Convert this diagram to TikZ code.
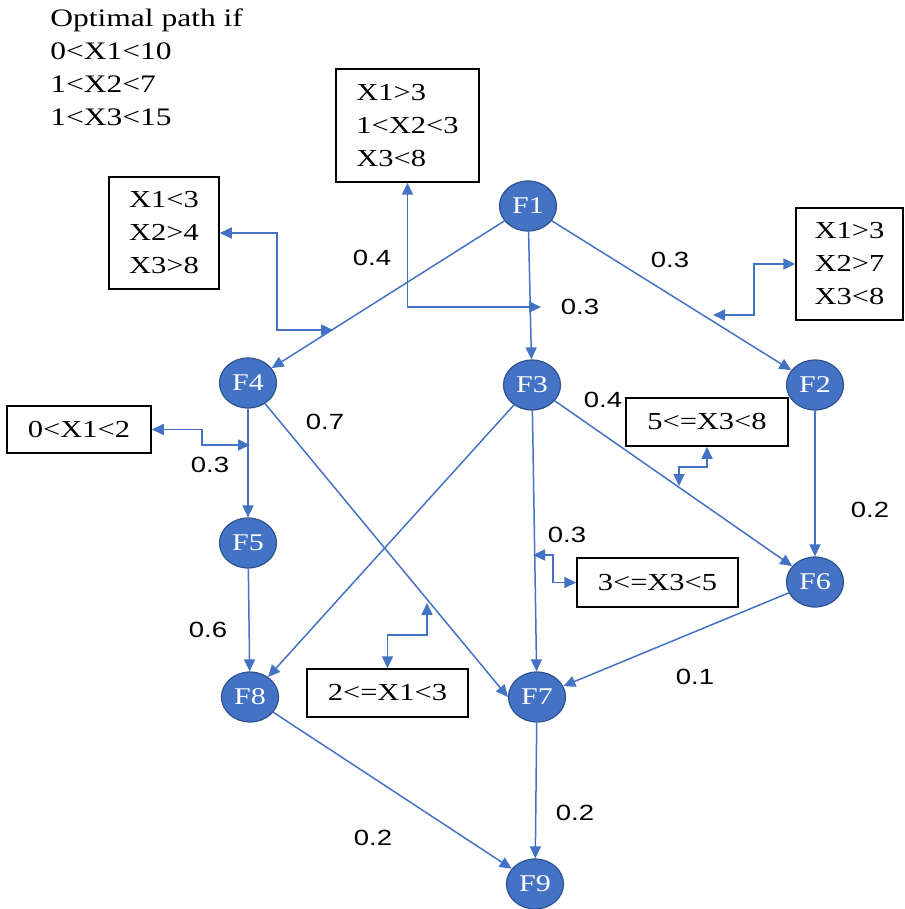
\documentclass[tikz,border=0pt]{standalone}
\usepackage{fontspec}
\setmainfont{Liberation Serif}[FakeStretch=1.25]
\setsansfont{Liberation Sans}[FakeStretch=1.25]
\usepackage{xcolor}
\usepackage{tikz}
\usetikzlibrary{arrows.meta, shapes.geometric}
\definecolor{fnblue}{RGB}{68,114,196}
\definecolor{fnrim}{RGB}{47,82,143}

\begin{document}
\begin{tikzpicture}[x=0.5pt, y=-0.5pt, >={Triangle[length=6pt,width=5.5pt]},
  fnode/.style={ellipse, draw=fnrim, line width=0.6pt, fill=fnblue, text=white, minimum width=28.5pt, minimum height=25pt, inner sep=0pt, font=\fontsize{12}{14}\selectfont},
  edge/.style={->, draw=fnblue, line width=0.75pt},
  callout/.style={<->, draw=fnblue, line width=0.85pt},
  cbox/.style={draw=black, line width=0.75pt, align=left, inner sep=0pt, font=\fontsize{12.2}{16.5}\selectfont},
  wlabel/.style={font=\sffamily\fontsize{11}{13}\selectfont, inner sep=0pt}]
\useasboundingbox (0,0) rectangle (904,909);
\node[anchor=north west, align=left, inner sep=0pt, font=\fontsize{12.6}{16.5}\selectfont] (optimal) at (50,8) {Optimal path if\\0<X1<10\\1<X2<7\\1<X3<15};
\node[fnode] (f1) at (528,206) {F1};
\node[fnode] (f4) at (248,383) {F4};
\node[fnode] (f3) at (532,385) {F3};
\node[fnode] (f2) at (815,385) {F2};
\node[fnode] (f5) at (248,543) {F5};
\node[fnode] (f6) at (815,582) {F6};
\node[fnode] (f8) at (250,697) {F8};
\node[fnode] (f7) at (537,697) {F7};
\node[fnode] (f9) at (535,884) {F9};
\draw[edge] (f1) -- (f4);
\draw[edge] (f1) -- (f3);
\draw[edge] (f1) -- (f2);
\draw[edge] (f4) -- (f5);
\draw[edge] (f4) -- (f7.west);
\draw[edge] (f3) -- (f8);
\draw[edge] (f3) -- (f7);
\draw[edge] (f3) -- (f6);
\draw[edge] (f2) -- (f6);
\draw[edge] (f5) -- (f8);
\draw[edge] (f6) -- (f7);
\draw[edge] (f7) -- (f9);
\draw[edge] (f8) -- (f9);
\node[wlabel] (w14) at (372,258) {0.4};
\node[wlabel] (w12) at (670,260) {0.3};
\node[wlabel] (w13) at (580,307) {0.3};
\node[wlabel] (w47) at (325,422) {0.7};
\node[wlabel] (w45) at (210,465) {0.3};
\node[wlabel] (w36) at (603,400) {0.4};
\node[wlabel] (w26) at (870,510) {0.2};
\node[wlabel] (w37) at (567,535) {0.3};
\node[wlabel] (w58) at (208,630) {0.6};
\node[wlabel] (w67) at (695,677) {0.1};
\node[wlabel] (w79) at (575,813) {0.2};
\node[wlabel] (w89) at (373,838) {0.2};
\node[cbox, minimum width=71.5pt, minimum height=56.5pt] (b1) at (407.5,125.5) {X1>3\\1<X2<3\\X3<8};
\node[cbox, minimum width=55pt, minimum height=56pt] (b2) at (164,233) {X1<3\\X2>4\\X3>8};
\node[cbox, minimum width=53.5pt, minimum height=56pt] (b3) at (849.5,264) {X1>3\\X2>7\\X3<8};
\node[cbox, minimum width=72pt, minimum height=23.5pt] (b4) at (79,429.5) {0<X1<2};
\node[cbox, minimum width=81pt, minimum height=24pt] (b5) at (707,422) {5<=X3<8};
\node[cbox, minimum width=80.5pt, minimum height=24.5pt] (b6) at (657.5,582.5) {3<=X3<5};
\node[cbox, minimum width=80.5pt, minimum height=24pt] (b7) at (387.5,693) {2<=X1<3};
\coordinate (c1) at (541,307);
\coordinate (c2k) at (277,280);
\coordinate (c2) at (333,330);
\coordinate (c3k) at (754,290);
\coordinate (c3) at (713,315);
\coordinate (c4k) at (202,437);
\coordinate (c4) at (250,445);
\coordinate (c5k) at (690,467);
\coordinate (c5) at (679,486);
\coordinate (c6) at (533,555);
\coordinate (c6k) at (553,570);
\coordinate (c7k) at (410,635);
\coordinate (c7) at (427,603);
\draw[callout] (b1.south) |- (c1);
\draw[callout] (b2.east) -| (c2k) |- (c2);
\draw[callout] (b3.west) -| (c3k) |- (c3);
\draw[callout] (b4.east) -| (c4k) |- (c4);
\draw[callout] (b5.south) |- (c5k) -| (c5);
\draw[callout] (c6) -| (c6k) |- (b6.west);
\draw[callout] (b7.north) |- (c7k) -| (c7);
\end{tikzpicture}
\end{document}
